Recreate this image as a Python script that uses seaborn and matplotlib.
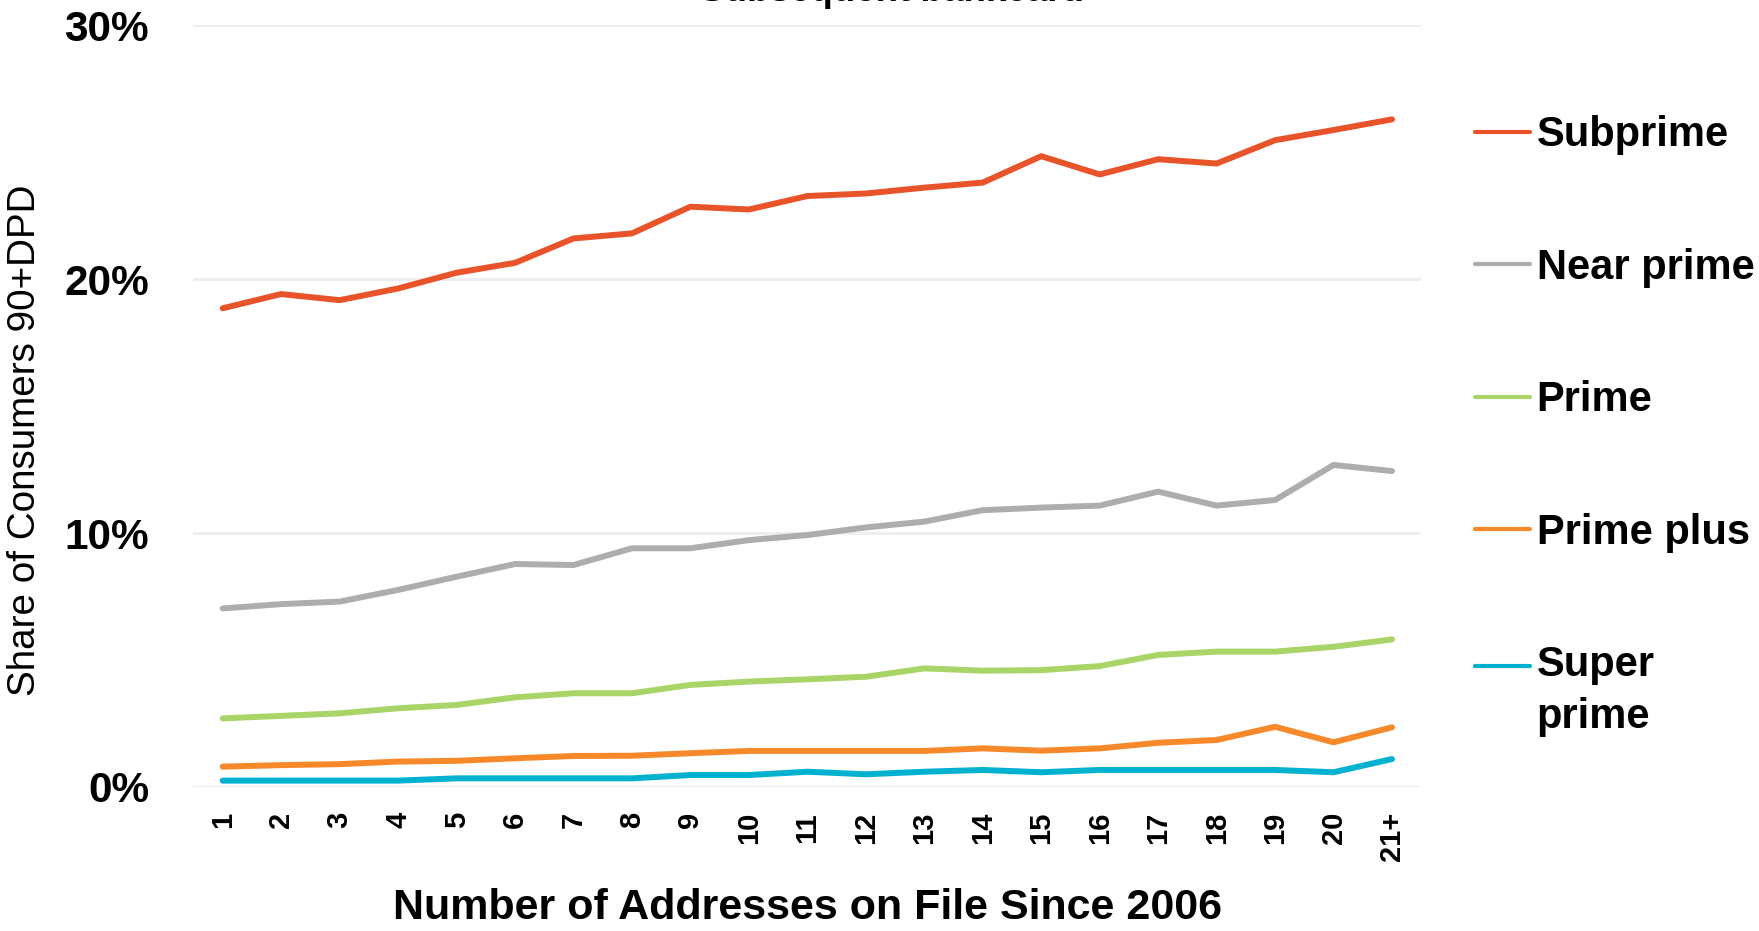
import numpy as np
import pandas as pd
import seaborn as sns
import matplotlib.pyplot as plt

addresses = [str(i) for i in range(1, 21)] + ["21+"]

subprime = [18.85, 19.41, 19.17, 19.63, 20.25, 20.64, 21.6, 21.8, 22.85, 22.74,
            23.27, 23.37, 23.6, 23.8, 24.84, 24.12, 24.72, 24.55, 25.47, 25.87, 26.29]
near_prime = [7.03, 7.2, 7.3, 7.76, 8.28, 8.78, 8.74, 9.4, 9.4, 9.72,
              9.92, 10.22, 10.45, 10.9, 11.0, 11.08, 11.63, 11.08, 11.3, 12.68, 12.44]
prime = [2.7, 2.8, 2.9, 3.1, 3.23, 3.53, 3.69, 3.69, 4.02, 4.15,
         4.24, 4.34, 4.67, 4.58, 4.6, 4.76, 5.2, 5.33, 5.33, 5.52, 5.81]
prime_plus = [0.8, 0.86, 0.9, 1.0, 1.03, 1.13, 1.22, 1.23, 1.33, 1.42,
              1.42, 1.42, 1.42, 1.52, 1.43, 1.52, 1.74, 1.85, 2.37, 1.76, 2.35]
super_prime = [0.25, 0.25, 0.25, 0.25, 0.34, 0.34, 0.34, 0.34, 0.47, 0.47,
               0.6, 0.5, 0.6, 0.67, 0.58, 0.67, 0.67, 0.67, 0.67, 0.58, 1.1]

tiers = ["Subprime", "Near prime", "Prime", "Prime plus", "Super\nprime"]
colors = ["#E9532A", "#ADADAD", "#A8D468", "#F7892B", "#00B1D0"]
yticks = [0, 10, 20, 30]

series = [subprime, near_prime, prime, prime_plus, super_prime]
df = pd.concat(
    [pd.DataFrame({"addr": addresses, "share": s, "tier": t}) for t, s in zip(tiers, series)],
    ignore_index=True,
)

sns.set_theme(style="white")
plt.rcParams["font.family"] = ["Liberation Sans", "DejaVu Sans"]
plt.rcParams["text.color"] = "black"
plt.rcParams["axes.labelcolor"] = "black"
plt.rcParams["xtick.color"] = "black"
plt.rcParams["ytick.color"] = "black"

fig = plt.figure(figsize=(17.59, 9.31), dpi=100)
ax = fig.add_axes([0.110, 0.1547, 0.698, 0.8183])

sns.lineplot(data=df, x="addr", y="share", hue="tier", palette=colors,
             sort=False, linewidth=4.3, ax=ax)

ax.set_xlim(-0.5, len(addresses) - 0.5)
ax.set_ylim(0, 30)
ax.set_yticks(yticks)
ax.set_yticklabels([f"{v}%" for v in yticks], fontweight="bold", fontsize=30.5)
ax.tick_params(axis="y", length=0, pad=32)
ax.tick_params(axis="x", length=0, pad=18)
for lab in ax.get_xticklabels():
    lab.set_rotation(90)
    lab.set_fontweight("bold")
    lab.set_fontsize(21)
    lab.set_va("top")
    lab.set_ha("center")

ax.grid(axis="y", color="#EEEEEE", linewidth=2.2)
ax.set_axisbelow(True)
for s in ax.spines.values():
    s.set_visible(False)
ax.axhline(0, color="#DDDDDD", linewidth=2.2, zorder=0)

ax.set_xlabel("Number of Addresses on File Since 2006",
              fontweight="bold", fontsize=31)
ax.xaxis.set_label_coords(0.5, -0.159)
ax.xaxis.label.set_va("center")
ax.set_ylabel("Share of Consumers 90+DPD", fontsize=27.8)
ax.yaxis.set_label_coords(-0.137, 0.455)
ax.yaxis.label.set_va("center")

# title sits mostly above the top edge, as in the source image
fig.text(0.507, 0.9985, "Subsequent bankcard", ha="center", va="baseline",
         fontsize=26.5, fontweight="bold")

leg = ax.legend(loc="upper left", bbox_to_anchor=(0.8385, 0.876),
                bbox_transform=fig.transFigure, frameon=False, fontsize=30,
                borderpad=0, borderaxespad=0, handlelength=1.33,
                handletextpad=0.15, labelspacing=2.22)
for t in leg.get_texts():
    t.set_fontweight("bold")
    t.set_linespacing(1.36)
for h in leg.get_lines():
    h.set_linewidth(3)

# move the last handle up to the first line of its two-line label
box = leg._legend_handle_box.get_children()[0].get_children()[-1]
line = box.get_children()[0].get_children()[0]
line.set_ydata(np.array(line.get_ydata()) + 19)

fig.savefig("out.png", dpi=100)
